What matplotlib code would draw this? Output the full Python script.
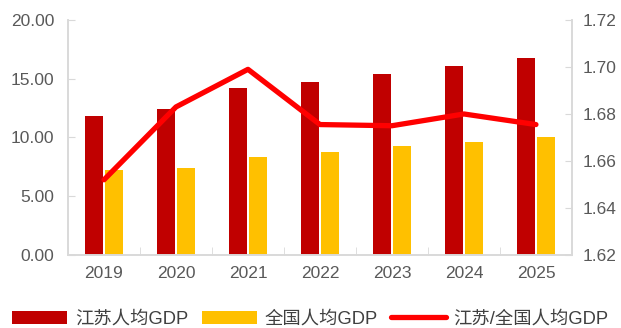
import matplotlib.pyplot as plt
import numpy as np

plt.rcParams['font.family'] = ['Liberation Sans', 'Noto Sans CJK SC', 'DejaVu Sans']

years = ['2019', '2020', '2021', '2022', '2023', '2024', '2025']
jiangsu_gdp = [11.85, 12.42, 14.19, 14.70, 15.43, 16.11, 16.79]
national_gdp = [7.23, 7.38, 8.37, 8.79, 9.25, 9.62, 10.07]
ratio = [1.652, 1.683, 1.699, 1.6755, 1.675, 1.680, 1.6755]

grey = '#595959'
spine_c = '#D9D9D9'

fig = plt.figure(figsize=(6.21, 3.28), dpi=100)
ax = fig.add_axes([0.1095, 0.2226, 0.8115, 0.7165])
ax2 = ax.twinx()

x = np.arange(len(years))
w = 0.25
b1 = ax.bar(x - 0.135, jiangsu_gdp, w, color='#C00000', label='江苏人均GDP')
b2 = ax.bar(x + 0.135, national_gdp, w, color='#FFC000', label='全国人均GDP')
l1, = ax2.plot(x, ratio, color='#FF0000', linewidth=3.8, solid_capstyle='round',
               label='江苏/全国人均GDP')

ax.set_xlim(-0.5, len(years) - 0.5)
ax.set_ylim(0, 20)
ax.set_yticks([0, 5, 10, 15, 20])
ax.set_yticklabels([f'{v:.2f}' for v in [0, 5, 10, 15, 20]])
ax2.set_ylim(1.62, 1.72)
ax2.set_yticks([1.62, 1.64, 1.66, 1.68, 1.70, 1.72])
ax2.set_yticklabels([f'{v:.2f}' for v in [1.62, 1.64, 1.66, 1.68, 1.70, 1.72]])

ax.set_xticks(x)
ax.set_xticklabels(years)
ax.set_xticks(np.arange(-0.5, len(years)), minor=True)
ax.tick_params(axis='x', which='major', length=0, labelsize=12.5, labelcolor=grey, pad=8)
ax.tick_params(axis='x', which='minor', direction='in', length=6, color=spine_c)
ax.tick_params(axis='y', direction='in', length=5, color=spine_c, labelsize=12.5,
               labelcolor=grey, pad=10)
ax2.tick_params(axis='y', direction='in', length=5, color=spine_c, labelsize=12.5,
                labelcolor=grey, pad=8)

for a in (ax, ax2):
    a.spines['top'].set_visible(False)
    for s in ('left', 'right', 'bottom'):
        a.spines[s].set_color(spine_c)
        a.spines[s].set_linewidth(1.2)

fig.legend([b1, b2, l1], [b1.get_label(), b2.get_label(), l1.get_label()],
           loc='center', bbox_to_anchor=(0.5, 0.027), ncol=3, frameon=False,
           fontsize=13.2, handlelength=3.0, handleheight=0.72, columnspacing=0.75,
           handletextpad=0.4, labelcolor='#404040')

fig.savefig('out.png', dpi=100)
